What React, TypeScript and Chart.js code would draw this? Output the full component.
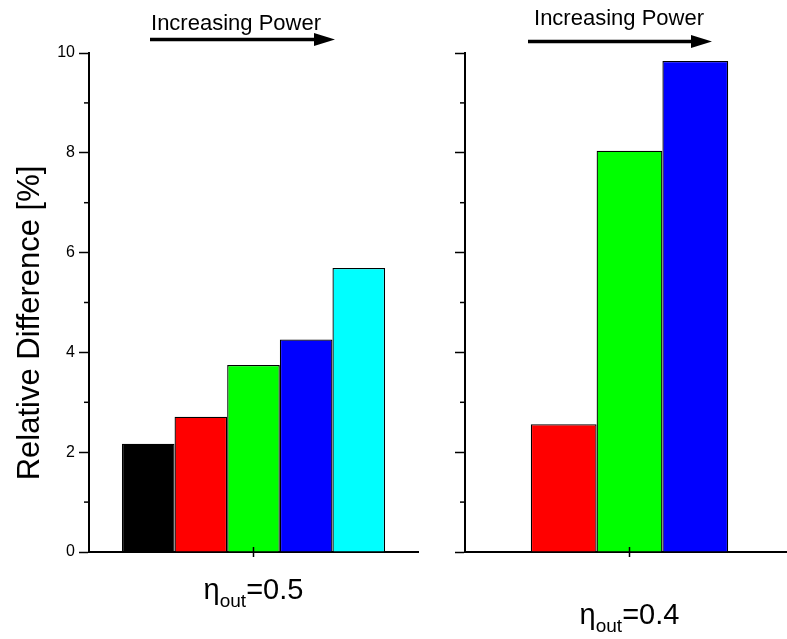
import React, { useEffect, useRef } from "react";
import { Chart, registerables } from "chart.js";

Chart.register(...registerables);

const FONT = '"Liberation Sans", Arial, sans-serif';

// ---- data ----
const etaValues = ["0.5", "0.4"];
const leftValues = [2.17, 2.71, 3.75, 4.26, 5.69];
const leftColors = ["#000000", "#ff0000", "#00ff00", "#0000ff", "#00ffff"];
const rightValues = [2.56, 8.04, 9.84];
const rightColors = ["#ff0000", "#00ff00", "#0000ff"];
const yMin = 0;
const yMax = 10;
const yMajorStep = 2;
const yMinorTicks = [1, 3, 5, 7, 9];
const panelTitle = "Increasing Power";
const yAxisTitle = "Relative Difference [%]";

const annotPlugin = {
  id: "annot",
  afterDraw(chart: any, _args: any, opts: any) {
    const { ctx, chartArea, scales } = chart;
    const ys = scales.y;
    const xs = scales.x;
    ctx.save();
    ctx.strokeStyle = "#000";
    ctx.fillStyle = "#000";
    // minor y ticks
    ctx.lineWidth = 1.5;
    for (const v of yMinorTicks) {
      const py = ys.getPixelForValue(v);
      ctx.beginPath();
      ctx.moveTo(chartArea.left - 5, py);
      ctx.lineTo(chartArea.left, py);
      ctx.stroke();
    }
    // x center tick
    const px = xs.getPixelForValue(0);
    ctx.beginPath();
    ctx.moveTo(px, chartArea.bottom - 5);
    ctx.lineTo(px, chartArea.bottom + 5);
    ctx.stroke();

    // panel title
    ctx.font = `22px ${FONT}`;
    ctx.textAlign = "center";
    ctx.textBaseline = "alphabetic";
    ctx.fillText(panelTitle, opts.titleX, opts.titleY);

    // arrow
    const ay = opts.arrowY;
    const headLen = 21;
    const headHalf = 6.5;
    ctx.lineWidth = 3.5;
    ctx.beginPath();
    ctx.moveTo(opts.arrowX0, ay);
    ctx.lineTo(opts.arrowX1 - headLen + 2, ay);
    ctx.stroke();
    ctx.beginPath();
    ctx.moveTo(opts.arrowX1 - headLen, ay - headHalf);
    ctx.lineTo(opts.arrowX1, ay);
    ctx.lineTo(opts.arrowX1 - headLen, ay + headHalf);
    ctx.closePath();
    ctx.fill();

    // eta label
    const big = `29px ${FONT}`;
    const small = `19px ${FONT}`;
    const rest = "=" + opts.eta;
    ctx.font = big;
    const wEta = ctx.measureText("η").width;
    const wRest = ctx.measureText(rest).width;
    ctx.font = small;
    const wSub = ctx.measureText("out").width;
    const total = wEta + wSub + wRest;
    let cx = px - total / 2;
    ctx.textAlign = "left";
    ctx.font = big;
    ctx.fillText("η", cx, opts.etaY);
    cx += wEta;
    ctx.font = small;
    ctx.fillText("out", cx, opts.etaY + 8);
    cx += wSub;
    ctx.font = big;
    ctx.fillText(rest, cx, opts.etaY);

    // y axis title
    if (opts.yTitle) {
      ctx.save();
      ctx.translate(opts.yTitleX, opts.yTitleY);
      ctx.rotate(-Math.PI / 2);
      ctx.font = `31px ${FONT}`;
      ctx.textAlign = "center";
      ctx.textBaseline = "middle";
      ctx.fillText(opts.yTitle, 0, 0);
      ctx.restore();
    }
    ctx.restore();
  },
};

function makeConfig(
  values: number[],
  colors: string[],
  eta: string,
  catPct: number,
  yWidth: number,
  showYLabels: boolean,
  padding: any,
  annot: any
): any {
  return {
    type: "bar",
    data: {
      labels: ["η_out=" + eta],
      datasets: values.map((v, i) => ({
        data: [v],
        backgroundColor: colors[i],
        borderColor: "#000",
        borderWidth: 1.3,
        categoryPercentage: catPct,
        barPercentage: 1,
      })),
    },
    options: {
      responsive: false,
      maintainAspectRatio: false,
      animation: false,
      layout: { padding },
      plugins: {
        legend: { display: false },
        tooltip: { enabled: false },
        annot,
      },
      scales: {
        x: {
          type: "category",
          ticks: { display: false },
          grid: { display: false, drawTicks: false, drawOnChartArea: false },
          border: { display: true, color: "#000", width: 2 },
          afterFit: (s: any) => {
            s.height = 0;
          },
        },
        y: {
          min: yMin,
          max: yMax,
          ticks: {
            stepSize: yMajorStep,
            display: showYLabels,
            color: "#000",
            font: { family: FONT, size: 16 },
            padding: 4,
          },
          grid: {
            drawOnChartArea: false,
            drawTicks: true,
            tickLength: 10,
            tickColor: "#000",
            tickWidth: 1.5,
          },
          border: { display: true, color: "#000", width: 2 },
          afterFit: (s: any) => {
            s.width = yWidth;
          },
        },
      },
    },
    plugins: [annotPlugin],
  };
}

export default function App() {
  const leftRef = useRef<HTMLCanvasElement>(null);
  const rightRef = useRef<HTMLCanvasElement>(null);

  useEffect(() => {
    const c1 = new Chart(
      leftRef.current as HTMLCanvasElement,
      makeConfig(
        leftValues,
        leftColors,
        etaValues[0],
        0.8,
        89,
        true,
        { top: 53, right: 12, bottom: 87, left: 0 },
        {
          titleX: 236,
          titleY: 30,
          arrowX0: 150,
          arrowX1: 335,
          arrowY: 39.5,
          eta: etaValues[0],
          etaY: 599,
          yTitle: yAxisTitle,
          yTitleX: 30,
          yTitleY: 323,
        }
      )
    );
    const c2 = new Chart(
      rightRef.current as HTMLCanvasElement,
      makeConfig(
        rightValues,
        rightColors,
        etaValues[1],
        0.6,
        65,
        false,
        { top: 53, right: 6, bottom: 87, left: 0 },
        {
          titleX: 219,
          titleY: 25,
          arrowX0: 128,
          arrowX1: 312,
          arrowY: 41.5,
          eta: etaValues[1],
          etaY: 624,
        }
      )
    );
    return () => {
      c1.destroy();
      c2.destroy();
    };
  }, []);

  return (
    <div
      style={{
        position: "fixed",
        left: 0,
        top: 0,
        width: 787,
        height: 639,
        overflow: "hidden",
        background: "#fff",
      }}
    >
      <canvas
        ref={leftRef}
        width={430}
        height={639}
        style={{ position: "absolute", left: 0, top: 0 }}
      />
      <canvas
        ref={rightRef}
        width={400}
        height={639}
        style={{ position: "absolute", left: 400, top: 0 }}
      />
    </div>
  );
}
